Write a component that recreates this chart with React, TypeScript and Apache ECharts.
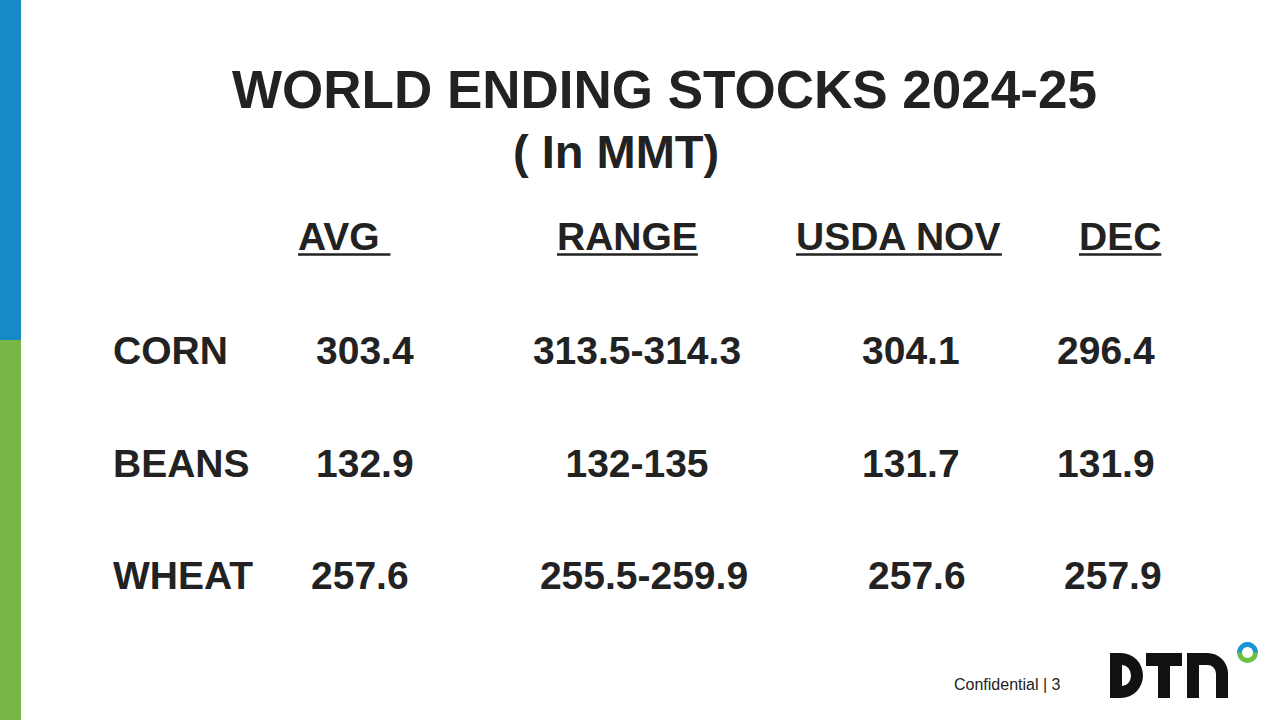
import React, { useEffect, useRef } from "react";
import * as echarts from "echarts";

// ---- data ----
const titleText = "WORLD ENDING STOCKS 2024-25";
const subtitleText = "( In MMT)";
const columnHeaders = ["AVG ", "RANGE", "USDA NOV", "DEC"];
const commodities = ["CORN", "BEANS", "WHEAT"];
const avgValues = ["303.4", "132.9", "257.6"];
const rangeValues = ["313.5-314.3", "132-135", "255.5-259.9"];
const usdaNovValues = ["304.1", "131.7", "257.6"];
const decValues = ["296.4", "131.9", "257.9"];
const footerText = "Confidential | 3";

// ---- layout (positions / styles only) ----
const FONT = "'Liberation Sans', Arial, Helvetica, sans-serif";
const TEXT_COLOR = "#222222";
const headerX = [298, 557, 796, 1079];
const headerY = 236;
const underlineY = 254.5;
const rowY = [350, 463, 575];
const labelX = 113;
const valueX = [316, 637, 862, 1057];
const valueAlign = ["left", "center", "left", "left"];
const rowShift = [
  [0, 0, 0, 0],
  [0, 0, 0, 0],
  [-5, 7, 6, 7],
];

const D_PATH =
  "M0 0 H11 A22 22.5 0 0 1 11 45 H0 Z M12 12 L12 33 A9 10.5 0 0 0 12 12 Z";
const N_PATH =
  "M0 45 V0 H20.5 A20.5 20.5 0 0 1 41 20.5 V45 H29 V20.5 A8.5 8.5 0 0 0 20.5 12 H12 V45 Z";
echarts.graphic.registerShape("dtnD", echarts.graphic.extendPath(D_PATH, {}) as any);
echarts.graphic.registerShape("dtnN", echarts.graphic.extendPath(N_PATH, {}) as any);

function measure(text: string, font: string): number {
  const c = document.createElement("canvas").getContext("2d");
  if (!c) return text.length * 20;
  c.font = font;
  return c.measureText(text).width;
}

function txt(text: string, x: number, y: number, size: number, bold: boolean, align = "left") {
  return {
    type: "text",
    x,
    y,
    silent: true,
    style: {
      text,
      fill: TEXT_COLOR,
      font: `${bold ? "bold " : ""}${size}px ${FONT}`,
      align,
      verticalAlign: "middle",
      textAlign: align,
      textVerticalAlign: "middle",
    },
  };
}

export default function App() {
  const ref = useRef<HTMLDivElement>(null);

  useEffect(() => {
    if (!ref.current) return;
    const chart = echarts.init(ref.current, null, { renderer: "svg" });

    const elements: any[] = [];
    // side bar
    elements.push({ type: "rect", shape: { x: 0, y: 0, width: 21, height: 340 }, style: { fill: "#1689c6" } });
    elements.push({ type: "rect", shape: { x: 0, y: 340, width: 21, height: 380 }, style: { fill: "#79b748" } });

    // titles
    elements.push(txt(titleText, 232, 89, 53, true));
    elements.push(txt(subtitleText, 513, 151, 47, true));

    // headers with underline
    const headerFont = `bold 39px ${FONT}`;
    columnHeaders.forEach((h, i) => {
      elements.push(txt(h, headerX[i], headerY, 39, true));
      const w = measure(h, headerFont);
      elements.push({
        type: "rect",
        shape: { x: headerX[i], y: underlineY - 1.25, width: w, height: 2.5 },
        style: { fill: TEXT_COLOR },
      });
    });

    // rows
    const columns = [avgValues, rangeValues, usdaNovValues, decValues];
    commodities.forEach((name, r) => {
      elements.push(txt(name, labelX, rowY[r], 39, true));
      columns.forEach((col, c) => {
        elements.push(txt(col[r], valueX[c] + rowShift[r][c], rowY[r], 39, true, valueAlign[c]));
      });
    });

    // footer
    elements.push(txt(footerText, 954, 684, 16, false));

    // DTN logo
    elements.push({ type: "dtnD", x: 1110, y: 653, style: { fill: "#111111" } });
    elements.push({ type: "rect", shape: { x: 1146, y: 653, width: 36, height: 13 }, style: { fill: "#111111" } });
    elements.push({ type: "rect", shape: { x: 1158, y: 653, width: 12, height: 45 }, style: { fill: "#111111" } });
    elements.push({ type: "dtnN", x: 1187, y: 653, style: { fill: "#111111" } });
    elements.push({
      type: "ring",
      shape: { cx: 1247.5, cy: 652.5, r: 10.5, r0: 5.5 },
      style: {
        fill: new echarts.graphic.LinearGradient(0, 0, 0, 1, [
          { offset: 0, color: "#1a8fd2" },
          { offset: 0.42, color: "#1a9ad0" },
          { offset: 0.58, color: "#6cc04a" },
          { offset: 1, color: "#74c043" },
        ]),
      },
    });

    chart.setOption({
      animation: false,
      backgroundColor: "#ffffff",
      graphic: { elements },
    });

    return () => chart.dispose();
  }, []);

  return (
    <div
      ref={ref}
      style={{ position: "fixed", left: 0, top: 0, width: 1280, height: 720, background: "#fff" }}
    />
  );
}
